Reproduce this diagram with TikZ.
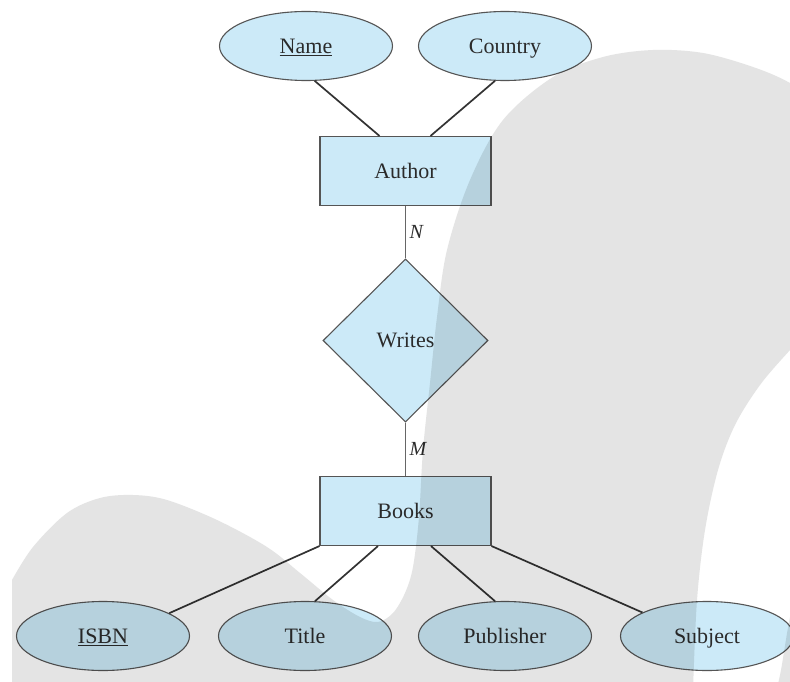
\documentclass[tikz,border=0pt]{standalone}
\usepackage{fontspec}
\setmainfont{Liberation Serif}
\usetikzlibrary{shapes.geometric}
\definecolor{nodeblue}{HTML}{CCEAF8}
\definecolor{edgegray}{HTML}{555555}
\definecolor{linedark}{HTML}{333333}
\definecolor{linemid}{HTML}{666666}
\definecolor{txt}{HTML}{2B2B2B}
\definecolor{bggray}{HTML}{E4E4E4}
\tikzset{
  base/.style={draw=edgegray, line width=1.1pt, fill=nodeblue, text=txt, inner sep=0pt,
    font=\fontsize{22}{26}\selectfont, text height=16pt, text depth=1.5pt},
  attr/.style={base, ellipse, minimum width=173pt, minimum height=69pt},
  entity/.style={base, rectangle, minimum width=171pt, minimum height=69pt},
  rel/.style={base, diamond, minimum width=165pt, minimum height=163pt},
  attrline/.style={draw=linedark, line width=1.7pt},
  relline/.style={draw=linemid, line width=1.6pt},
  card/.style={right, text=txt, font=\fontsize{20}{24}\selectfont\itshape}
}
\begin{document}
\begin{tikzpicture}[x=1pt, y=-1pt]
\useasboundingbox (0,0) rectangle (790,682);
\fill[white] (0,0) rectangle (790,682);

% nodes
\node[attr] (name) at (306,46) {\underline{Name}};
\node[attr] (country) at (505,46) {Country};
\node[entity] (author) at (405.5,171) {Author};
\node[rel] (writes) at (405.5,340.5) {Writes};
\node[entity] (books) at (405.5,511) {Books};
\node[attr] (isbn) at (103,636) {\underline{ISBN}};
\node[attr] (title) at (305,636) {Title};
\node[attr] (publisher) at (505,636) {Publisher};
\node[attr] (subject) at (707,636) {Subject};

% connectors
\draw[attrline] (name.-76) -- ([xshift=-26pt]author.north);
\draw[attrline] (country.-106) -- ([xshift=25pt]author.north);
\draw[relline] (author.south) -- node[card] (lN) {N} (writes.north);
\draw[relline] (writes.south) -- node[card] (lM) {M} (books.north);
\draw[attrline] (books.south west) -- (isbn.19);
\draw[attrline] ([xshift=-27.5pt]books.south) -- (title.74);
\draw[attrline] ([xshift=25.5pt]books.south) -- (publisher.106);
\draw[attrline] (books.south east) -- (subject.160);

% background watermark shape (multiplied over the drawing)
\begin{scope}[blend mode=multiply]
\clip (0,0) rectangle (790,682);
\fill[bggray] (12,690)
  -- plot[smooth, tension=0.55] coordinates {(12,580) (33,547) (67,513) (100,498) (133,495) (167,500) (217,520) (267,547) (300,573) (333,600) (360,617) (378,622) (393,613) (405,593) (413,567) (419,517) (423,450) (430,383) (437,317) (447,250) (470,180) (503,120) (553,77) (603,57) (653,50) (703,53) (753,67) (790,83) (830,110)}
  -- (860,280)
  -- plot[smooth, tension=0.55] coordinates {(850,290) (820,318) (790,350) (760,385) (735,425) (718,470) (705,530) (697,600) (693,690)}
  -- cycle;
\fill[bggray] plot[smooth, tension=0.55] coordinates {(776,692) (781,670) (790,617) (800,580)} -- (800,692) -- cycle;
\end{scope}
\end{tikzpicture}
\end{document}
